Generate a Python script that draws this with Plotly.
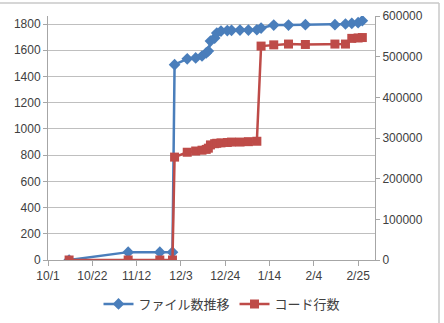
import plotly.graph_objects as go

dates = ["2012-10-11", "2012-11-08", "2012-11-23", "2012-11-29", "2012-11-30",
         "2012-12-06", "2012-12-10", "2012-12-13", "2012-12-15", "2012-12-16",
         "2012-12-17", "2012-12-19", "2012-12-20", "2012-12-22", "2012-12-25",
         "2012-12-27", "2012-12-31", "2013-01-04", "2013-01-08", "2013-01-10",
         "2013-01-16", "2013-01-23", "2013-01-31", "2013-02-14", "2013-02-19",
         "2013-02-22", "2013-02-25", "2013-02-27"]
files = [0, 60, 60, 60, 1490,
         1534, 1541, 1556, 1579, 1594,
         1670, 1693, 1731, 1746, 1750,
         1752, 1754, 1754, 1756, 1769,
         1792, 1792, 1795, 1795, 1800,
         1805, 1810, 1825]
lines = [0, 0, 0, 0, 253000,
         265000, 268000, 270000, 272000, 275000,
         283000, 286000, 287000, 288000, 289000,
         290000, 290000, 291000, 292000, 526000,
         529000, 531000, 530000, 531000, 531000,
         545000, 546000, 547000]

name_files = "ファイル数推移"
name_lines = "コード行数"

blue = "#4A7EBB"
red = "#BE4B48"
grid = "#BFBFBF"
axis = "#A6A6A6"
font_main = "Liberation Sans, DejaVu Sans, sans-serif"
font_jp = "Noto Sans CJK JP, sans-serif"

fig = go.Figure()
fig.add_trace(go.Scatter(
    x=dates, y=files, name=name_files, mode="lines+markers",
    line=dict(color=blue, width=2.5),
    marker=dict(symbol="diamond", size=9, color=blue),
    yaxis="y"))
fig.add_trace(go.Scatter(
    x=dates, y=lines, name=name_lines, mode="lines+markers",
    line=dict(color=red, width=2.5),
    marker=dict(symbol="square", size=9, color=red),
    yaxis="y2"))

W, H = 444, 323
L, R, T, B = 48, 69, 16, 63
pw, ph = W - L - R, H - T - B

fig.update_layout(
    width=W, height=H,
    margin=dict(l=L, r=R, t=T, b=B, autoexpand=False),
    paper_bgcolor="white", plot_bgcolor="white",
    font=dict(family=font_main, size=12, color="#404040"),
    showlegend=True,
    legend=dict(orientation="h", x=0.5, xref="container", xanchor="center",
                y=1 - 304 / H, yref="container", yanchor="middle",
                font=dict(family=font_jp, size=13, color="#404040"),
                itemwidth=30, bgcolor="rgba(0,0,0,0)"),
    xaxis=dict(type="date", range=["2012-10-01", "2013-03-05"], automargin=False,
               tick0="2012-10-01", dtick=21 * 86400000, tickformat="%-m/%-d",
               showgrid=False, showline=True, linecolor=axis, linewidth=1,
               ticks="outside", ticklen=5, tickcolor=axis, zeroline=False,
               tickfont=dict(size=12, color="#404040")),
    yaxis=dict(range=[0, 1861], tick0=0, dtick=200, showgrid=True, gridcolor=grid,
               gridwidth=1, showline=True, linecolor=axis, ticks="outside",
               ticklen=4, tickcolor=axis, zeroline=False, automargin=False,
               tickfont=dict(size=12, color="#404040")),
    yaxis2=dict(range=[0, 600000], tick0=0, dtick=100000, overlaying="y", side="right",
                showgrid=False, showline=True, linecolor=axis, ticks="outside",
                ticklen=4, tickcolor=axis, zeroline=False, tickformat="d",
                automargin=False, tickfont=dict(size=12, color="#404040")),
)

# chart-area border (top and right edges visible)
x0 = -L / pw
x_right = (439 - L) / pw
y_top = (H - 3 - B) / ph
y_bot = -B / ph
fig.add_shape(type="line", xref="paper", yref="paper", x0=x0, x1=x_right,
              y0=y_top, y1=y_top, line=dict(color="#C8C8C8", width=1.5))
fig.add_shape(type="line", xref="paper", yref="paper", x0=x_right, x1=x_right,
              y0=y_top, y1=y_bot, line=dict(color="#C8C8C8", width=1.5))

fig.write_html("out.html")
